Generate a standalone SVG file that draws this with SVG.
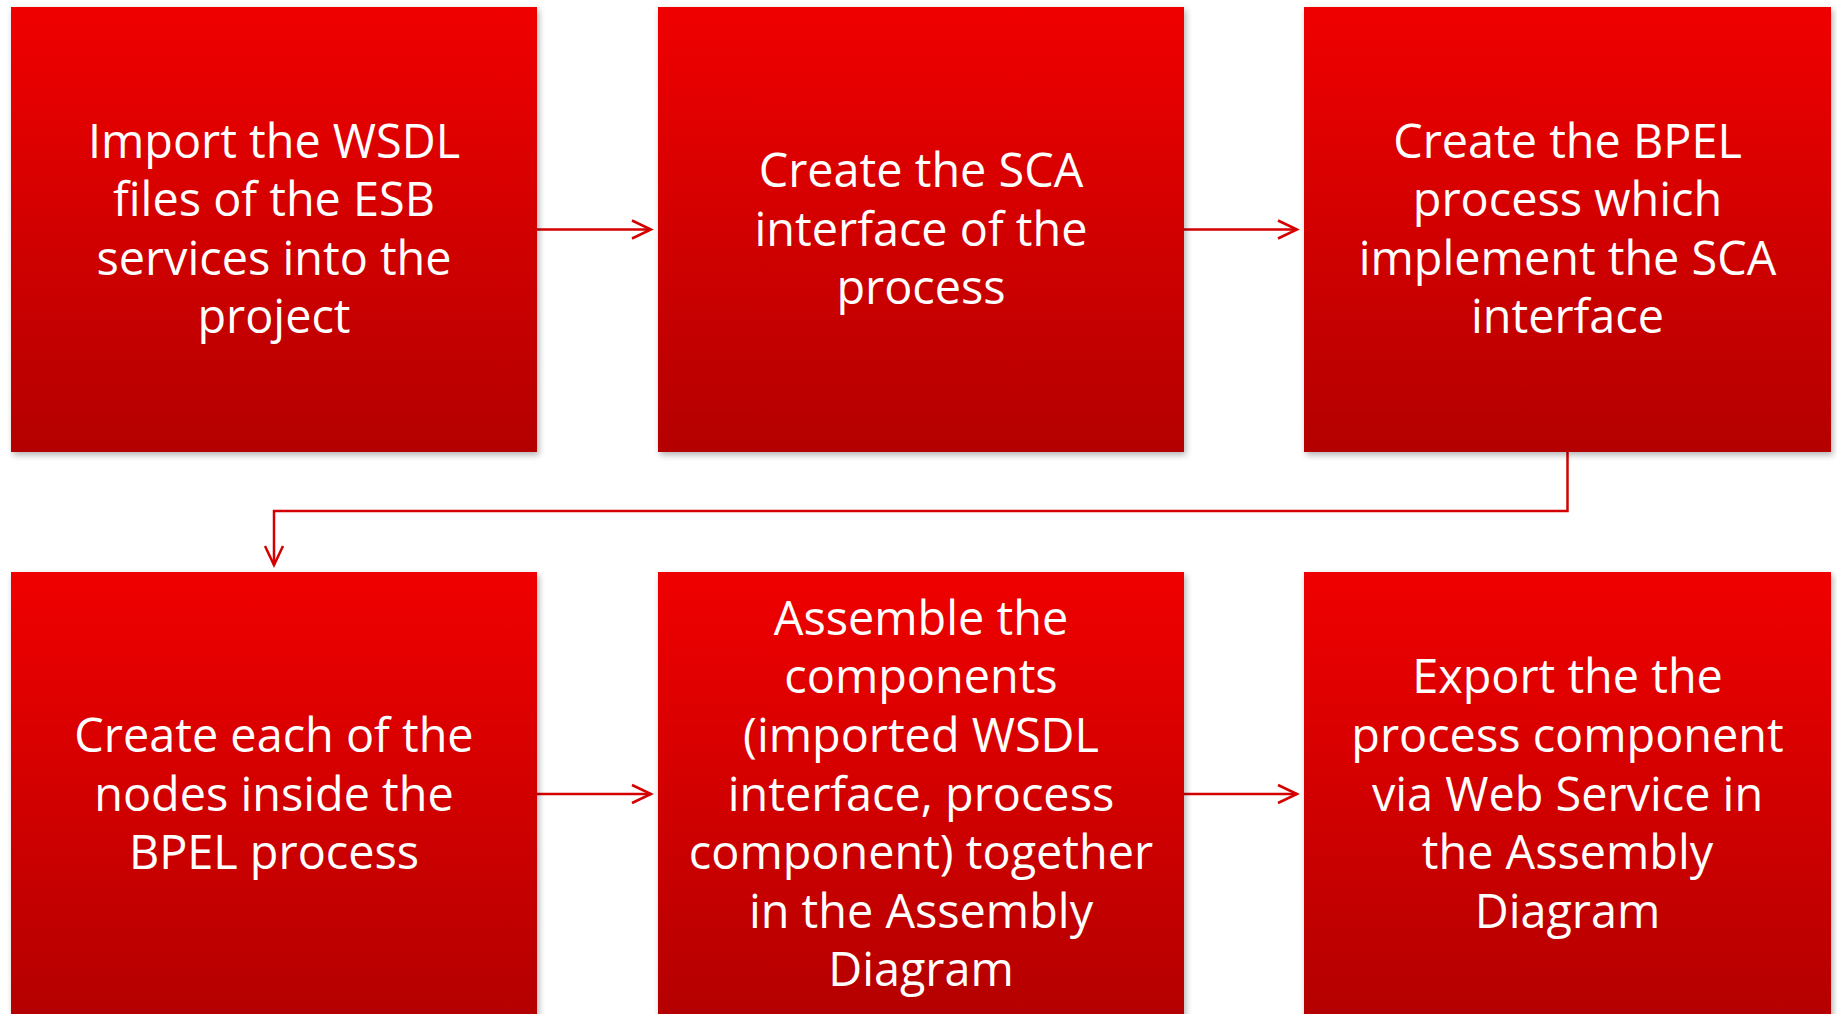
<svg xmlns="http://www.w3.org/2000/svg" width="1837" height="1014" viewBox="0 0 1837 1014">
<defs>
<linearGradient id="g" x1="0" y1="0" x2="0" y2="1">
<stop offset="0" stop-color="#f00000"/>
<stop offset="1" stop-color="#b40000"/>
</linearGradient>
<filter id="sh" x="-5%" y="-5%" width="112%" height="112%">
<feDropShadow dx="2" dy="3" stdDeviation="3" flood-color="#000" flood-opacity="0.3"/>
</filter>
<marker id="ah" markerUnits="userSpaceOnUse" markerWidth="24" markerHeight="24" refX="20" refY="10" orient="auto" viewBox="0 0 24 20">
<path d="M1,1 L20,10 L1,19" fill="none" stroke="#d40000" stroke-width="2.5"/>
</marker>
</defs>
<style>
.box{fill:url(#g);filter:url(#sh)}
.t{fill:#fff;font-family:"Open Sans","Noto Sans",sans-serif;font-size:46.8px;text-anchor:middle}
.c{fill:none;stroke:#d40000;stroke-width:2.5}
</style>
<g id="connectors">
<path class="c" d="M537,229.5 H651" marker-end="url(#ah)"/>
<path class="c" d="M1184,229.5 H1297" marker-end="url(#ah)"/>
<path class="c" d="M1567.5,452 V511 H274 V565" marker-end="url(#ah)"/>
<path class="c" d="M537,794 H651" marker-end="url(#ah)"/>
<path class="c" d="M1184,794 H1297" marker-end="url(#ah)"/>
</g>
<g id="n1">
<rect class="box" x="11" y="7" width="526" height="445"/>
<text class="t"><tspan x="274" y="157.6">Import the WSDL</tspan><tspan x="274" y="216.2">files of the ESB</tspan><tspan x="274" y="274.8">services into the</tspan><tspan x="274" y="333.4">project</tspan></text>
</g>
<g id="n2">
<rect class="box" x="658" y="7" width="526" height="445"/>
<text class="t"><tspan x="921" y="186.9">Create the SCA</tspan><tspan x="921" y="245.5">interface of the</tspan><tspan x="921" y="304.1">process</tspan></text>
</g>
<g id="n3">
<rect class="box" x="1304" y="7" width="527" height="445"/>
<text class="t"><tspan x="1567.5" y="157.6">Create the BPEL</tspan><tspan x="1567.5" y="216.2">process which</tspan><tspan x="1567.5" y="274.8">implement the SCA</tspan><tspan x="1567.5" y="333.4">interface</tspan></text>
</g>
<g id="n4">
<rect class="box" x="11" y="572" width="526" height="445"/>
<text class="t"><tspan x="274" y="751.9">Create each of the</tspan><tspan x="274" y="810.5">nodes inside the</tspan><tspan x="274" y="869.1">BPEL process</tspan></text>
</g>
<g id="n5">
<rect class="box" x="658" y="572" width="526" height="445"/>
<text class="t"><tspan x="921" y="634.7">Assemble the</tspan><tspan x="921" y="693.3">components</tspan><tspan x="921" y="751.9">(imported WSDL</tspan><tspan x="921" y="810.5">interface, process</tspan><tspan x="921" y="869.1">component) together</tspan><tspan x="921" y="927.7">in the Assembly</tspan><tspan x="921" y="986.3">Diagram</tspan></text>
</g>
<g id="n6">
<rect class="box" x="1304" y="572" width="527" height="445"/>
<text class="t"><tspan x="1567.5" y="693.3">Export the the</tspan><tspan x="1567.5" y="751.9">process component</tspan><tspan x="1567.5" y="810.5">via Web Service in</tspan><tspan x="1567.5" y="869.1">the Assembly</tspan><tspan x="1567.5" y="927.7">Diagram</tspan></text>
</g>
</svg>
